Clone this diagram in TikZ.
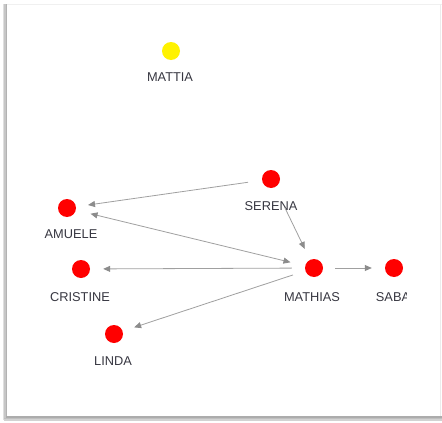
\documentclass[tikz,border=0pt]{standalone}
\usepackage{fontspec}
\setmainfont{Liberation Sans}
\usetikzlibrary{arrows.meta}
\definecolor{lbl}{RGB}{55,55,65}
\definecolor{edgecol}{RGB}{160,160,160}
\definecolor{tipcol}{RGB}{140,140,140}
\definecolor{ylw}{RGB}{255,242,0}
\tikzset{
  person/.style={circle,fill=red,draw=none,minimum size=18pt,inner sep=0pt},
  isolated/.style={circle,fill=ylw,draw=none,minimum size=18pt,inner sep=0pt},
  lab/.style={text=lbl,font=\fontsize{12.8}{15}\selectfont,inner sep=0pt},
  link/.style={draw=edgecol,line width=0.8pt,-{Triangle[length=7pt,width=6pt,color=tipcol]}},
  twolink/.style={draw=edgecol,line width=0.8pt,{Triangle[length=7pt,width=6pt,color=tipcol]}-{Triangle[length=7pt,width=6pt,color=tipcol]}}
}
\begin{document}
\begin{tikzpicture}[x=1pt,y=-1pt]
\useasboundingbox (0,0) rectangle (442,423);
\fill[white] (0,0) rectangle (442,423);
% frame with shadow
\draw[gray!12,line width=1pt] (6,4.5) -- (442,4.5);
\draw[gray!15,line width=1pt] (440.5,4) -- (440.5,416);
\draw[gray!25,line width=1.2pt] (3.5,4) -- (3.5,420);
\draw[gray!45,line width=1.2pt] (5,4) -- (5,420);
\draw[gray!60,line width=1.2pt] (6.5,4) -- (6.5,416);
\draw[gray!35,line width=1.2pt] (4,420) -- (442,420);
\draw[gray!50,line width=1.2pt] (4,418.5) -- (442,418.5);
\draw[gray!65,line width=1.2pt] (6,417) -- (442,417);
% nodes
\node[isolated] (mattia) at (171,51) {};
\node[person] (serena) at (271,179) {};
\node[person] (amuele) at (67,208) {};
\node[person] (cristine) at (81,269) {};
\node[person] (mathias) at (314,268) {};
\node[person] (saba) at (394,268) {};
\node[person] (linda) at (114,334) {};
% labels
\node[lab] (lmattia) at (170,77) {MATTIA};
\node[lab] (lserena) at (271,206) {SERENA};
\node[lab] (lamuele) at (71,234) {AMUELE};
\node[lab] (lcristine) at (80,297) {CRISTINE};
\node[lab] (lmathias) at (312,297) {MATHIAS};
\node[lab] (llinda) at (113,361) {LINDA};
\begin{scope}
\clip (360,280) rectangle (406,310);
\node[lab] (lsaba) at (393,297) {SABA};
\end{scope}
% connectors
\draw[link,shorten <=14pt,shorten >=12pt] (serena) -- (amuele);
\draw[twolink,shorten <=15pt,shorten >=15pt] (mathias) -- (amuele);
\draw[link,shorten <=22pt,shorten >=12pt] (serena) -- (mathias);
\draw[link,shorten <=13pt,shorten >=13pt] (mathias) -- (cristine);
\draw[link,shorten <=13pt,shorten >=12pt] (mathias) -- (linda);
\draw[link,shorten <=12pt,shorten >=13pt] (mathias) -- (saba);
\end{tikzpicture}
\end{document}
